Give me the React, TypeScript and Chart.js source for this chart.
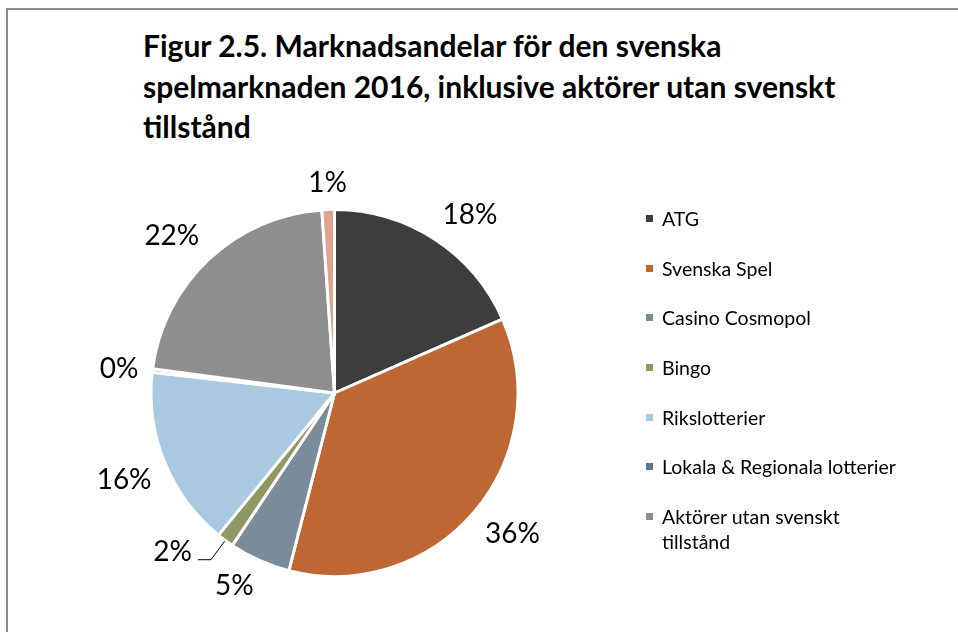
import React, { useEffect, useRef } from 'react';
import { Chart, registerables } from 'chart.js';

Chart.register(...registerables);

const titleLines = [
  'Figur 2.5. Marknadsandelar för den svenska',
  'spelmarknaden 2016, inklusive aktörer utan svenskt',
  'tillstånd',
];

const categories = [
  'ATG',
  'Svenska Spel',
  'Casino Cosmopol',
  'Bingo',
  'Rikslotterier',
  'Lokala & Regionala lotterier',
  'Aktörer utan svenskt tillstånd',
  '',
];

const shares = [18.4, 35.6, 5.4, 1.5, 15.9, 0.3, 21.8, 1.1];

const colors = [
  '#3d3d3d',
  '#bd6734',
  '#7a8b9a',
  '#8f9763',
  '#a9c9e1',
  '#5b7690',
  '#8e8e8e',
  '#dfa28c',
];

const leaderCategories = ['Bingo'];

const FONT = 'Lato, "Open Sans", sans-serif';

const labelPlugin = {
  id: 'outsideLabels',
  afterDatasetsDraw(chart: any) {
    const ctx = chart.ctx as CanvasRenderingContext2D;
    const meta = chart.getDatasetMeta(0);
    ctx.save();
    ctx.font = `28px ${FONT}`;
    ctx.fillStyle = '#000';
    ctx.textBaseline = 'middle';
    meta.data.forEach((arc: any, i: number) => {
      const p = arc.getProps(['x', 'y', 'startAngle', 'endAngle', 'outerRadius'], true);
      const mid = (p.startAngle + p.endAngle) / 2;
      const ux = Math.cos(mid);
      const uy = Math.sin(mid);
      const text = Math.round(shares[i]) + '%';
      const w = ctx.measureText(text).width;
      const h = 26;
      if (leaderCategories.includes(categories[i])) {
        const ex = p.x + (p.outerRadius + 1) * ux;
        const ey = p.y + (p.outerRadius + 1) * uy;
        const kx = p.x + (p.outerRadius + 24) * ux;
        const ky = p.y + (p.outerRadius + 24) * uy;
        const lx = kx - 13;
        ctx.strokeStyle = '#000';
        ctx.lineWidth = 1;
        ctx.beginPath();
        ctx.moveTo(ex, ey);
        ctx.lineTo(kx, ky);
        ctx.lineTo(lx, ky);
        ctx.stroke();
        ctx.textAlign = 'right';
        ctx.fillText(text, lx - 6, ky - 8);
        return;
      }
      const d = p.outerRadius + 14;
      const px = p.x + d * ux;
      const py = p.y + d * uy;
      let cx = px;
      let cy = py;
      if (ux > 0.3) cx = px + w / 2;
      else if (ux < -0.3) cx = px - w / 2;
      if (uy > 0.3) cy = py + h / 2;
      else if (uy < -0.3) cy = py - h / 2;
      ctx.textAlign = 'center';
      ctx.fillText(text, cx, cy);
    });
    ctx.restore();
  },
};

export default function App() {
  const canvasRef = useRef<HTMLCanvasElement | null>(null);

  useEffect(() => {
    if (!canvasRef.current) return;
    const chart = new Chart(canvasRef.current, {
      type: 'pie',
      data: {
        labels: categories,
        datasets: [
          {
            data: shares,
            backgroundColor: colors,
            borderColor: '#ffffff',
            borderWidth: 3,
            radius: 183.5,
          },
        ],
      },
      options: {
        animation: false,
        responsive: false,
        maintainAspectRatio: false,
        layout: { padding: { left: 134.5, right: 423.5, top: 193, bottom: 39 } },
        plugins: {
          legend: { display: false },
          title: { display: false },
          tooltip: { enabled: false },
        },
      },
      plugins: [labelPlugin],
    });
    return () => chart.destroy();
  }, []);

  const legendItems = categories
    .map((c, i) => ({ c, color: colors[i] }))
    .filter((it) => it.c !== '');

  return (
    <div
      style={{
        position: 'absolute',
        left: 0,
        top: 0,
        width: 958,
        height: 632,
        overflow: 'hidden',
        background: '#fff',
        fontFamily: FONT,
      }}
    >
      <div
        style={{
          position: 'absolute',
          left: 6,
          top: 8,
          width: 1100,
          height: 800,
          border: '2px solid #8c8c8c',
          boxSizing: 'border-box',
        }}
      />
      <div
        style={{
          position: 'absolute',
          left: 143,
          top: 25,
          fontWeight: 700,
          fontSize: 30,
          lineHeight: '40.5px',
          color: '#000',
          whiteSpace: 'nowrap',
        }}
      >
        {titleLines.map((t, i) => (
          <div key={i}>{t}</div>
        ))}
      </div>
      <canvas
        ref={canvasRef}
        width={958}
        height={632}
        style={{ position: 'absolute', left: 0, top: 0, width: 958, height: 632 }}
      />
      <div style={{ position: 'absolute', left: 646, top: 206, width: 290 }}>
        {legendItems.map((it, i) => (
          <div
            key={i}
            style={{
              position: 'relative',
              paddingLeft: 16,
              fontSize: 19.5,
              lineHeight: '25px',
              marginBottom: 24.7,
              color: '#000',
              width: 244,
            }}
          >
            <span
              style={{
                position: 'absolute',
                left: 0,
                top: 9,
                width: 7,
                height: 7,
                background: it.color,
              }}
            />
            {it.c}
          </div>
        ))}
      </div>
    </div>
  );
}
